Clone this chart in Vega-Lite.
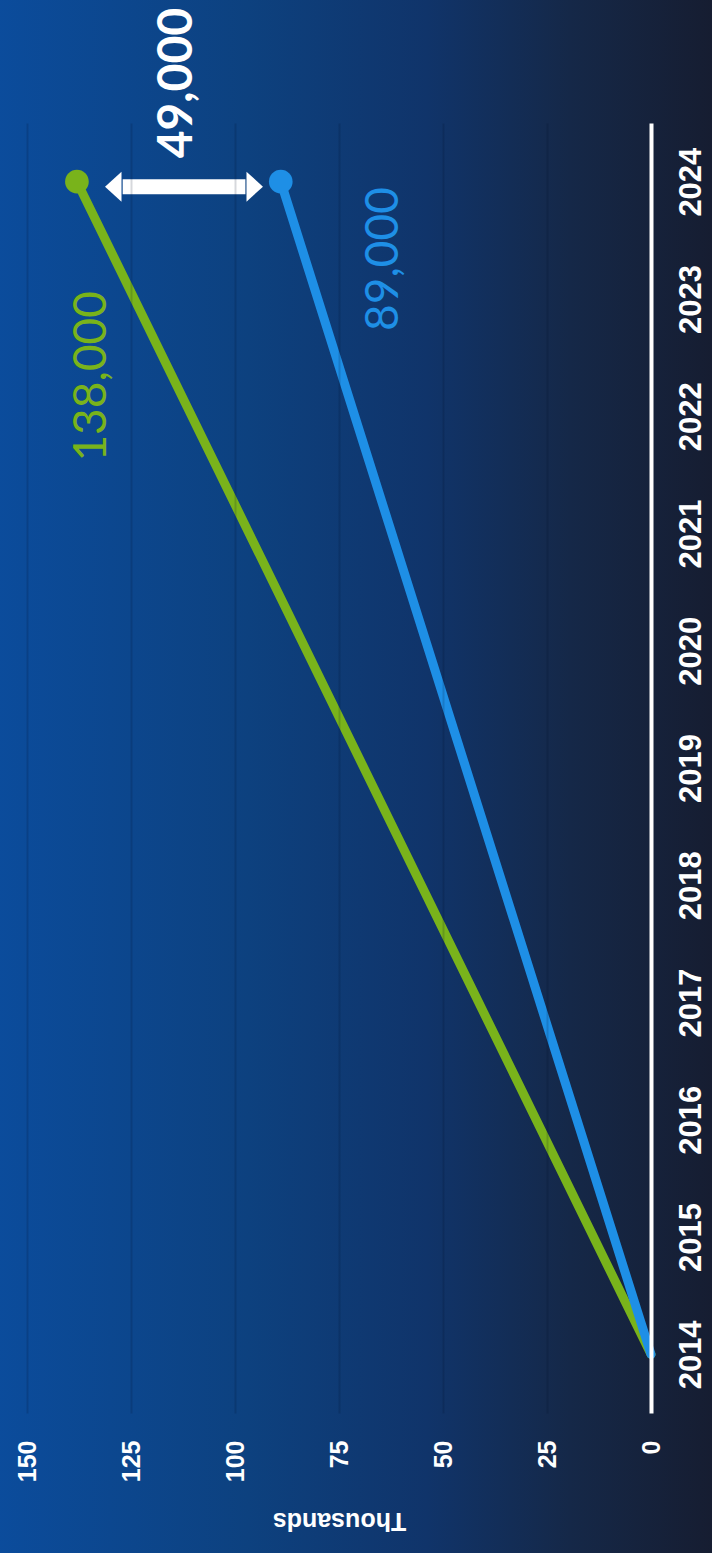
{
  "$schema": "https://vega.github.io/schema/vega-lite/v6.json",
  "width": 624,
  "height": 1290,
  "autosize": {"type": "none"},
  "padding": {"left": 27, "top": 123, "right": 61, "bottom": 140},
  "background": "#0d3b78",
  "config": {"view": {"stroke": null}},
  "datasets": {
    "series": [
      {"year": 2014, "value": 0, "series": "Green"},
      {"year": 2024, "value": 138, "series": "Green"},
      {"year": 2014, "value": 0, "series": "Blue"},
      {"year": 2024, "value": 89, "series": "Blue"}
    ],
    "one": [{}]
  },
  "layer": [
    {
      "data": {"name": "one"},
      "mark": {"type": "rect", "clip": false, "fill": {"gradient": "linear", "x1": 0, "y1": 0, "x2": 1, "y2": 0, "stops": [
        {"offset": 0, "color": "#0b4c9c"},
        {"offset": 0.35, "color": "#0d417f"},
        {"offset": 0.6, "color": "#10346a"},
        {"offset": 0.8, "color": "#152848"},
        {"offset": 1, "color": "#161d31"}
      ]}},
      "encoding": {
        "x": {"datum": 157, "type": "quantitative", "title": "Thousands"},
        "x2": {"datum": -15},
        "y": {"datum": 2025.6, "type": "quantitative", "title": null},
        "y2": {"datum": 2012.3}
      }
    },
    {
      "data": {"name": "series"},
      "mark": {"type": "line", "strokeWidth": 9, "strokeCap": "round"},
      "encoding": {
        "x": {
          "field": "value", "type": "quantitative", "title": "Thousands",
          "scale": {"domain": [0, 150], "reverse": true, "nice": false, "zero": false},
          "axis": {
            "orient": "bottom", "values": [0, 25, 50, 75, 100, 125, 150],
            "labelAngle": 270, "labelAlign": "right", "labelBaseline": "middle",
            "labelFont": "Liberation Sans", "labelFontWeight": "bold", "labelFontSize": 25,
            "labelColor": "#ffffff", "labelPadding": 27, "ticks": false, "tickSize": 0,
            "domain": false, "grid": true, "gridColor": "#000a26", "gridOpacity": 0.16, "gridWidth": 2,
            "titleAngle": 180, "titleBaseline": "bottom", "titleFont": "Liberation Sans",
            "titleFontWeight": "bold", "titleFontSize": 25, "titleColor": "#ffffff", "titlePadding": 26,
            "zindex": 1
          }
        },
        "y": {
          "field": "year", "type": "quantitative", "title": null,
          "scale": {"domain": [2013.5, 2024.5], "nice": false, "zero": false},
          "axis": {
            "orient": "right", "values": [2014, 2015, 2016, 2017, 2018, 2019, 2020, 2021, 2022, 2023, 2024],
            "format": "d", "labelAngle": 270, "labelAlign": "center", "labelBaseline": "top",
            "labelFont": "Liberation Sans", "labelFontWeight": "bold", "labelFontSize": 31,
            "labelColor": "#ffffff", "labelPadding": 25, "ticks": false, "tickSize": 0,
            "domain": true, "domainColor": "#ffffff", "domainWidth": 4, "grid": false, "zindex": 2
          }
        },
        "color": {"field": "series", "type": "nominal", "scale": {"domain": ["Green", "Blue"], "range": ["#79b31b", "#1e8fe6"]}, "legend": null},
        "order": {"field": "series", "sort": "descending"}
      }
    },
    {
      "data": {"name": "series"},
      "transform": [{"filter": "datum.year == 2024"}],
      "mark": {"type": "point", "filled": true, "opacity": 1, "size": 560},
      "encoding": {
        "x": {"field": "value", "type": "quantitative", "title": "Thousands"},
        "y": {"field": "year", "type": "quantitative", "title": null},
        "color": {"field": "series", "type": "nominal", "legend": null}
      }
    },
    {
      "data": {"name": "one"},
      "mark": {"type": "rule", "color": "#ffffff", "strokeWidth": 15, "strokeCap": "butt"},
      "encoding": {
        "x": {"datum": 127, "type": "quantitative", "title": "Thousands"},
        "x2": {"datum": 97.5},
        "y": {"datum": 2023.957, "type": "quantitative", "title": null}
      }
    },
    {
      "data": {"name": "one"},
      "mark": {"type": "point", "filled": true, "opacity": 1, "color": "#ffffff", "size": 900, "shape": "M-1,0L0.1,-1L0.1,1Z"},
      "encoding": {
        "x": {"datum": 127.64, "type": "quantitative", "title": "Thousands"},
        "y": {"datum": 2023.957, "type": "quantitative", "title": null}
      }
    },
    {
      "data": {"name": "one"},
      "mark": {"type": "point", "filled": true, "opacity": 1, "color": "#ffffff", "size": 900, "shape": "M1,0L-0.1,-1L-0.1,1Z"},
      "encoding": {
        "x": {"datum": 96.88, "type": "quantitative", "title": "Thousands"},
        "y": {"datum": 2023.957, "type": "quantitative", "title": null}
      }
    },
    {
      "data": {"name": "one"},
      "mark": {"type": "text", "angle": 270, "align": "center", "baseline": "middle", "font": "Lato", "fontSize": 46, "color": "#79b31b", "clip": false},
      "encoding": {
        "x": {"datum": 134.4, "type": "quantitative", "title": "Thousands"},
        "y": {"datum": 2022.34, "type": "quantitative", "title": null},
        "text": {"value": "138,000"}
      }
    },
    {
      "data": {"name": "one"},
      "mark": {"type": "text", "angle": 270, "align": "center", "baseline": "middle", "font": "Lato", "fontSize": 46, "color": "#1e8fe6", "clip": false},
      "encoding": {
        "x": {"datum": 64.2, "type": "quantitative", "title": "Thousands"},
        "y": {"datum": 2023.34, "type": "quantitative", "title": null},
        "text": {"value": "89,000"}
      }
    },
    {
      "data": {"name": "one"},
      "mark": {"type": "text", "angle": 270, "align": "center", "baseline": "middle", "font": "Lato", "fontWeight": "bold", "fontSize": 48, "color": "#ffffff", "clip": false},
      "encoding": {
        "x": {"datum": 113.7, "type": "quantitative", "title": "Thousands"},
        "y": {"datum": 2024.84, "type": "quantitative", "title": null},
        "text": {"value": "49,000"}
      }
    }
  ]
}
